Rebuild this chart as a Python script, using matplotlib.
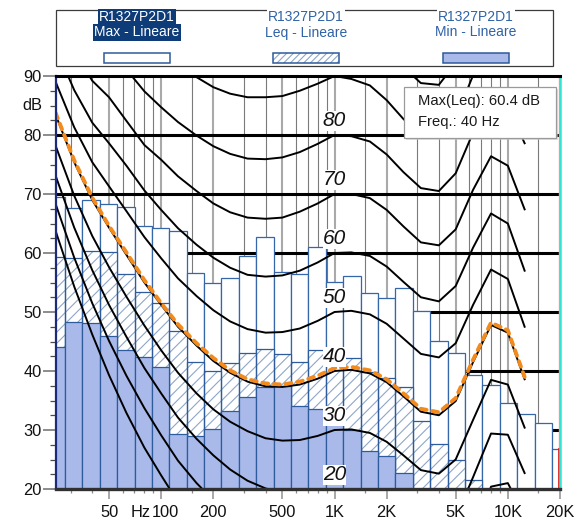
import numpy as np
import matplotlib
matplotlib.use("Agg")
import matplotlib.pyplot as plt
from matplotlib.patches import Rectangle
from matplotlib.ticker import NullFormatter

plt.rcParams['font.family'] = ['Liberation Sans', 'DejaVu Sans']
plt.rcParams['hatch.linewidth'] = 0.8

# 1/3-octave band spectrum (dB, linear weighting)
band_hz = [25, 31.5, 40, 50, 63, 80, 100, 125, 160, 200, 250, 315, 400, 500, 630,
           800, 1000, 1250, 1600, 2000, 2500, 3150, 4000, 5000, 6300, 8000, 10000,
           12500, 16000, 20000]
max_db = [69.5, 67.6, 69.0, 68.3, 67.8, 64.6, 64.3, 63.7, 56.6, 55.0, 55.8, 59.5,
          62.7, 56.7, 56.4, 61.1, 55.1, 56.1, 53.3, 52.3, 54.0, 50.2, 45.1, 43.0,
          39.4, 37.6, 34.5, 32.7, 31.2, 26.8]
leq_db = [59.4, 59.2, 60.4, 60.1, 56.5, 53.4, 51.5, 46.7, 41.6, 40.0, 41.3, 43.0,
          43.7, 42.8, 41.6, 43.6, 41.9, 42.2, 39.9, 38.8, 37.3, 31.6, 27.6, 24.9,
          21.5, 18.6, 16.5, 14.8, 13.2, 11.5]
min_db = [44.1, 48.3, 48.1, 46.0, 43.6, 42.4, 40.7, 29.3, 29.0, 30.2, 33.2, 35.6,
          37.3, 37.5, 34.0, 33.6, 32.0, 30.0, 26.5, 25.6, 22.7, 18.5, 17.0, 15.8,
          14.5, 13.0, 11.8, 10.5, 9.5, 8.5]

# Equal-loudness contours (dB SPL at each frequency), one list per phon level
contour_hz = [20, 25, 31.5, 40, 50, 63, 80, 100, 125, 160, 200, 250, 315, 400, 500,
              630, 800, 1000, 1250, 1600, 2000, 2500, 3150, 4000, 5000, 6300, 8000,
              10000, 12500]
phon_0 = [72.5, 63.1, 54.3, 46.2, 39.3, 32.9, 27.0, 22.3, 17.8, 13.8, 10.8, 8.1, 5.7,
          3.9, 2.5, 1.3, 0.5, 0.0, -0.7, -1.9, -3.5, -5.7, -8.1, -8.3, -5.4, 2.5,
          11.6, 13.1, 8.8]
phon_10 = [76.8, 67.7, 59.2, 51.5, 45.1, 39.2, 33.7, 29.1, 24.8, 21.0, 18.1, 15.6,
           13.4, 11.9, 10.9, 10.1, 9.9, 10.0, 9.7, 8.7, 7.2, 5.0, 2.6, 2.2, 4.8, 12.2,
           20.4, 21.0, 15.5]
phon_20 = [81.3, 72.5, 64.3, 57.1, 51.2, 45.8, 40.5, 36.2, 32.1, 28.5, 25.7, 23.3,
           21.4, 20.1, 19.4, 19.1, 19.4, 20.0, 19.9, 19.2, 17.7, 15.4, 13.0, 12.5,
           15.0, 22.0, 29.4, 29.2, 22.7]
phon_30 = [86.0, 77.6, 69.7, 62.9, 57.6, 52.6, 47.7, 43.5, 39.7, 36.2, 33.5, 31.4,
           29.8, 28.6, 28.2, 28.3, 29.0, 30.0, 30.1, 29.5, 28.0, 25.7, 23.2, 22.6,
           25.0, 31.7, 38.5, 37.7, 30.4]
phon_40 = [91.0, 82.9, 75.4, 69.0, 64.3, 59.7, 55.0, 51.2, 47.5, 44.3, 41.7, 39.7,
           38.2, 37.4, 37.3, 37.7, 38.7, 40.0, 40.2, 39.6, 38.1, 35.7, 33.1, 32.5,
           34.9, 41.5, 47.8, 46.5, 38.6]
phon_50 = [96.2, 88.5, 81.3, 75.4, 71.3, 67.1, 62.7, 59.1, 55.7, 52.7, 50.3, 48.4,
           47.1, 46.5, 46.6, 47.2, 48.5, 50.0, 50.2, 49.6, 48.0, 45.5, 42.9, 42.3,
           44.7, 51.2, 57.2, 55.6, 47.5]
phon_60 = [101.7, 94.4, 87.6, 82.1, 78.6, 74.8, 70.6, 67.3, 64.2, 61.4, 59.2, 57.5,
           56.3, 56.0, 56.2, 57.0, 58.4, 60.0, 60.1, 59.5, 57.7, 55.1, 52.5, 51.8,
           54.4, 60.9, 66.7, 65.0, 57.0]
phon_70 = [107.6, 100.7, 94.3, 89.2, 86.4, 82.4, 78.3, 75.8, 73.0, 70.5, 68.4, 66.9,
           66.0, 65.8, 66.0, 67.0, 68.4, 70.0, 70.0, 69.3, 67.3, 64.5, 61.8, 61.3,
           64.0, 70.7, 76.4, 74.8, 67.4]
phon_80 = [113.7, 107.3, 101.3, 96.6, 94.6, 91.1, 87.4, 84.7, 82.2, 79.9, 78.1, 76.8,
           76.0, 75.9, 76.2, 77.1, 78.5, 80.0, 79.8, 78.9, 76.7, 73.7, 71.0, 70.5,
           73.5, 80.4, 86.3, 84.9, 78.6]
phon_90 = [120.3, 114.4, 108.7, 104.4, 103.2, 99.8, 96.3, 94.0, 91.8, 89.8, 88.1, 87.0,
           86.4, 86.4, 86.6, 87.5, 88.7, 90.0, 89.5, 88.4, 85.9, 82.7, 80.0, 79.6,
           82.9, 90.1, 96.3, 95.5, 90.9]
phon_100 = [127.2, 121.9, 116.6, 112.6, 112.3, 108.9, 105.6, 103.6, 101.8, 100.1, 98.7,
            97.8, 97.2, 97.3, 97.4, 98.1, 99.0, 100.0, 99.1, 97.7, 94.9, 91.5, 88.8,
            88.5, 92.2, 99.9, 106.6, 106.4, 104.3]
# contour through the measured loudness level
loudness_db = [91.2, 83.2, 75.7, 69.4, 64.6, 60.1, 55.4, 51.5, 47.9, 44.7, 42.2, 40.1,
               38.6, 37.9, 37.7, 38.2, 39.2, 40.5, 40.7, 40.1, 38.6, 36.2, 33.6, 33.0,
               35.4, 41.9, 48.2, 46.9, 39.0]

contours = {0: phon_0, 10: phon_10, 20: phon_20, 30: phon_30, 40: phon_40, 50: phon_50,
            60: phon_60, 70: phon_70, 80: phon_80, 90: phon_90, 100: phon_100}
labelled_phons = [20, 30, 40, 50, 60, 70, 80]

x_major = [50, 100, 200, 500, 1000, 2000, 5000, 10000, 20000]
x_major_labels = ["50", "100", "200", "500", "1K", "2K", "5K", "10K", "20K"]
x_minor = [30, 40, 60, 70, 80, 90, 150, 300, 400, 600, 700, 800, 900, 1500, 3000,
           4000, 6000, 7000, 8000, 9000, 15000]

W, H = 579, 524
fig = plt.figure(figsize=(W / 100, H / 100), dpi=100)
L, R, T, B = 56, 560, 76, 489
ax = fig.add_axes([L / W, (H - B) / H, (R - L) / W, (B - T) / H])
ax.set_xscale('log')
ax.set_xlim(24.72, 20000)
ax.set_ylim(20, 90)

edge_col = '#2d5b9b'
# grid behind the bars
for f in x_minor:
    ax.axvline(f, color='#7a7a7a', lw=0.8, zorder=0.5)
for f in x_major[:-1]:
    ax.axvline(f, color='#a9a9a9', lw=1.5, zorder=0.5)
for y in [30, 40, 50, 60, 70, 80]:
    ax.axhline(y, color='black', lw=2.2, zorder=0.6)

# band edges from exact 1/3-octave centres
n = np.round(3 * np.log2(np.array(band_hz) / 1000.0))
fc = 1000.0 * 2 ** (n / 3)
lo = fc * 2 ** (-1 / 6)
hi = fc * 2 ** (1 / 6)
wd = hi - lo

ax.bar(lo, max_db, width=wd, align='edge', color='white', edgecolor='#3566a8',
       linewidth=0.9, zorder=1)
ax.bar(lo, leq_db, width=wd, align='edge', color='white', edgecolor='#8ea6c9',
       hatch='///', linewidth=0, zorder=2)
ax.bar(lo, leq_db, width=wd, align='edge', fill=False, edgecolor=edge_col,
       linewidth=0.9, zorder=2.1)
ax.bar(lo, min_db, width=wd, align='edge', color='#a8b9ea', edgecolor=edge_col,
       linewidth=0.9, zorder=3)

for p, vals in contours.items():
    ax.plot(contour_hz, vals, color='black', lw=1.4, zorder=5)
ax.plot(contour_hz, loudness_db, color='#f28a1e', lw=2.8, zorder=6,
        linestyle=(0, (1.5, 1.5)), dash_capstyle='round')

for p in labelled_phons:
    ax.text(1000, p + 2.4, str(p), ha='center', va='center', fontsize=15,
            style='italic', color='#111111', zorder=7,
            bbox=dict(facecolor='white', edgecolor='none', pad=0.2))

# cursor marks at the right edge
ax.axvline(19750, color='#ff9a9a', lw=1.0, zorder=8)
ax.plot([19750, 19750], [20, max_db[-1]], color='#e02020', lw=1.3, zorder=8)

# spines
for s in ax.spines.values():
    s.set_zorder(9)
ax.spines['top'].set_color('black')
ax.spines['top'].set_linewidth(2.2)
ax.spines['bottom'].set_color('#303030')
ax.spines['bottom'].set_linewidth(2.4)
ax.spines['left'].set_color('#1b2a7a')
ax.spines['left'].set_linewidth(1.6)
ax.spines['right'].set_color('#2ee6d2')
ax.spines['right'].set_linewidth(1.8)

# y axis
ax.set_yticks(range(20, 91, 10))
ax.set_yticklabels([str(v) for v in range(20, 91, 10)])
ax.set_yticks([v for v in np.arange(20, 90.1, 2.5) if v % 10], minor=True)
ax.tick_params(axis='y', which='major', length=9.5, width=1.4, color='#8c8c8c',
               pad=1, labelsize=11.8, labelcolor='#111111')
ax.tick_params(axis='y', which='minor', length=4.2, width=0.9, color='#4a4a4a')
ax.text(-0.028, 85, "dB", transform=ax.get_yaxis_transform(), ha='right',
        va='center', fontsize=11.8, color='#111111')

# x axis
ax.set_xticks(x_major)
ax.set_xticklabels([""] * len(x_major))
ax.set_xticks(x_minor, minor=True)
ax.xaxis.set_minor_formatter(NullFormatter())
ax.tick_params(axis='x', which='major', length=7, width=1.2, color='#9a9a9a')
ax.tick_params(axis='x', which='minor', length=3.2, width=0.9, color='#8a8a8a')
xlab_pos = dict(zip(x_major_labels, x_major))
xlab_pos["100"] = 106
xtrans = ax.get_xaxis_transform()
for lab, f in xlab_pos.items():
    ax.text(f, -0.058, lab, transform=xtrans, ha='center', va='center',
            fontsize=11.8, color='#111111', clip_on=False)
ax.text(76, -0.058, "Hz", transform=xtrans, ha='center', va='center',
        fontsize=11.8, color='#111111', clip_on=False)

# overlay for legend and read-out box (pixel coordinates)
ov = fig.add_axes([0, 0, 1, 1], zorder=10)
ov.set_xlim(0, W)
ov.set_ylim(H, 0)
ov.axis('off')

ov.add_patch(Rectangle((56, 10), 497, 56, fill=False, edgecolor='#3c3c3c', lw=0.9))
series = [("Max - Lineare", 137), ("Leq - Lineare", 306), ("Min - Lineare", 476)]
for i, (name, cx) in enumerate(series):
    if i == 0:
        kw = dict(color='white', bbox=dict(facecolor='#0d3c78', edgecolor='none', pad=1.0))
    else:
        kw = dict(color='#2f62a6', bbox=dict(facecolor='white', edgecolor='none', pad=1.0))
    ov.text(cx, 17, "R1327P2D1", ha='center', va='center', fontsize=10, **kw)
    ov.text(cx, 32.5, name, ha='center', va='center', fontsize=10, **kw)
cx0, cx1, cx2 = [c for _, c in series]
ov.add_patch(Rectangle((cx0 - 33, 53), 66, 10, facecolor='white', edgecolor=edge_col, lw=1.1))
ov.add_patch(Rectangle((cx1 - 33, 53), 66, 10, facecolor='white', edgecolor='#8ea6c9',
                       hatch='/////', lw=0))
ov.add_patch(Rectangle((cx1 - 33, 53), 66, 10, fill=False, edgecolor=edge_col, lw=1.1))
ov.add_patch(Rectangle((cx2 - 33, 53), 66, 10, facecolor='#a8b9ea', edgecolor=edge_col, lw=1.1))

# read-out box
ov.add_patch(Rectangle((406, 89), 152, 51, facecolor='#c8c8c8', edgecolor='none', alpha=0.6))
ov.add_patch(Rectangle((404, 87), 152, 51, facecolor='white', edgecolor='#9a9a9a', lw=0.9))
ov.text(418, 101.5, f"Max(Leq): {max(leq_db):.1f} dB", ha='left', va='center',
        fontsize=10.6, color='#1a1a1a')
ov.text(418, 122, f"Freq.: {band_hz[int(np.argmax(leq_db))]} Hz", ha='left',
        va='center', fontsize=10.6, color='#1a1a1a')

fig.savefig("out.png", dpi=100)
